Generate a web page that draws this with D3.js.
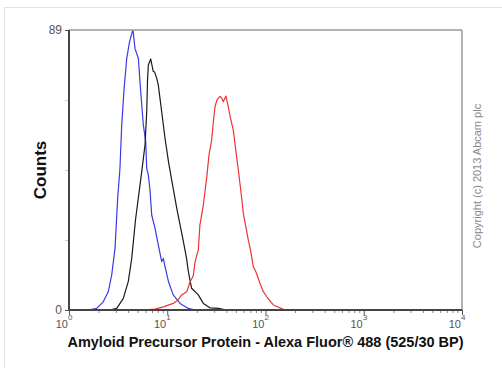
<!DOCTYPE html>
<html>
<head>
<meta charset="utf-8">
<script src="https://cdn.jsdelivr.net/npm/d3@7"></script>
<style>
  body { margin: 0; background: #fff; }
  text { font-family: Arial, "Liberation Sans", sans-serif; }
</style>
</head>
<body>
<div id="chart"></div>
<script>
// histogram traces (intensity, counts)
const blueIntensity = [1.3, 1.57, 1.91, 2.23, 2.51, 2.72, 2.94, 3.13, 3.30, 3.44, 3.63, 3.87, 4.13, 4.41, 4.48, 4.70, 5.08, 5.35, 5.71, 6.04, 6.18, 6.42, 6.67, 6.95, 7.50, 8.11, 8.78, 9.12, 9.49, 10.3, 11.5, 13.5, 16.4, 19.2];
const blueCounts = [0, 0, 0.5, 2.6, 5.8, 11.1, 19.6, 35.5, 45.0, 58.8, 70, 80.0, 85.2, 88.5, 89, 83, 80.0, 70, 58.8, 53.5, 45.0, 42.9, 38.1, 30.2, 26.0, 20.7, 15.4, 16.4, 13.8, 9.0, 4.8, 2.1, 0.5, 0];

const blackIntensity = [2.61, 3.06, 3.57, 4.01, 4.35, 4.75, 5.5, 5.94, 6.18, 6.30, 6.42, 6.79, 6.92, 7.21, 7.42, 7.81, 8.11, 8.78, 9.49, 10.3, 11.1, 12.5, 14.6, 15.7, 16.4, 17.7, 20.7, 23.3, 27.2, 33.1, 40.3];
const blackCounts = [0, 0.5, 3.7, 9.0, 16.4, 28.6, 44, 52.5, 63.0, 73.1, 77.9, 79.8, 78.5, 75.8, 75.7, 73.7, 71.5, 63.0, 54.6, 47.1, 41.3, 32.3, 21.7, 16.5, 12.2, 6.9, 4.8, 2.1, 0.7, 0.5, 0];

const redIntensity = [5.5, 7.5, 9.12, 11.5, 12.9, 14.0, 15.8, 17.1, 18.4, 19.2, 20.7, 21.5, 23.3, 25.2, 26.6, 28.3, 29.6, 30.6, 32.1, 33.1, 34.4, 35.8, 37.2, 38.7, 39.6, 41.8, 44.0, 47.0, 50.1, 52.9, 56.3, 59.5, 63.4, 66.8, 70.3, 75.1, 80.0, 87.9, 94.3, 103, 120, 152, 178];
const redCounts = [0, 0.3, 1.0, 2.1, 3.2, 4.8, 5.8, 9.0, 10.8, 15.4, 19.1, 27.0, 33.4, 42.0, 49.3, 54.0, 60.4, 64.6, 66.8, 67.3, 67.9, 67.4, 66.2, 67.4, 68.0, 64.6, 61.0, 57.2, 50.2, 44.5, 37.5, 30.7, 26.1, 22.3, 19.1, 13.8, 12.1, 8.5, 6.0, 4.2, 1.6, 0.2, 0];

const xMajorTicks = [1, 10, 100, 1000, 10000];
const xMajorExp = ["0", "1", "2", "3", "4"];
const yTicks = [0, 22.25, 44.5, 66.75, 89];
const yTickLabels = ["0", "", "", "", "89"];

const xLabel = "Amyloid Precursor Protein - Alexa Fluor\u00AE 488 (525/30 BP)";
const yLabel = "Counts";
const copyright = "Copyright (c) 2013 Abcam plc";

const W = 502, H = 368;
const margin = { top: 30, right: 40, bottom: 58, left: 69 };
const width = W - margin.left - margin.right;
const height = H - margin.top - margin.bottom;

const svg = d3.select("#chart")
  .append("svg")
  .attr("width", W)
  .attr("height", H);

// light outer frame of the picture
svg.append("rect")
  .attr("x", 4.5).attr("y", 7.5)
  .attr("width", W + 10).attr("height", H + 10)
  .attr("fill", "none")
  .attr("stroke", "#e2e2e2");

const g = svg.append("g")
  .attr("transform", `translate(${margin.left},${margin.top})`);

const x = d3.scaleLog().domain([1, 10000]).range([0, width]);
const y = d3.scaleLinear().domain([0, 89]).range([height, 0]);

// minor log ticks
const minorTicks = [];
for (let d = 1; d < 10000; d *= 10) {
  for (let k = 2; k <= 9; k++) minorTicks.push(d * k);
}

g.append("g")
  .attr("transform", `translate(0,${height})`)
  .call(d3.axisBottom(x).tickValues(minorTicks).tickSize(3).tickFormat(""))
  .call(a => a.select(".domain").remove())
  .call(a => a.selectAll("line").attr("stroke", "#888"));

g.append("g")
  .attr("transform", `translate(0,${height})`)
  .call(d3.axisBottom(x).tickValues(xMajorTicks).tickSize(5).tickFormat(""))
  .call(a => a.select(".domain").remove())
  .call(a => a.selectAll("line").attr("stroke", "#555"));

// x tick labels 10^n
const xl = g.append("g").attr("fill", "#555");
xMajorTicks.forEach((v, i) => {
  xl.append("text")
    .attr("x", x(v) - 1)
    .attr("y", height + 18)
    .attr("text-anchor", "end")
    .attr("font-size", 11)
    .text("10");
  xl.append("text")
    .attr("x", x(v) - 1)
    .attr("y", height + 10)
    .attr("font-size", 8)
    .text(xMajorExp[i]);
});

// y ticks
g.append("g")
  .call(d3.axisLeft(y).tickValues(yTicks).tickSize(4).tickFormat((d, i) => yTickLabels[i]))
  .call(a => a.select(".domain").remove())
  .call(a => a.selectAll("line").attr("stroke", (d) => (d === 0 || d === 89) ? "#555" : "#ccc"))
  .call(a => a.selectAll("text").attr("fill", "#555").attr("font-size", 12)
    .attr("font-family", "Arial, 'Liberation Sans', sans-serif"));

// curves
g.append("clipPath").attr("id", "plotclip")
  .append("rect").attr("width", width).attr("height", height);

const line = d3.line()
  .x((d) => x(d[0]))
  .y((d) => y(d[1]));

const series = [
  { xs: blueIntensity, ys: blueCounts, color: "#3a3ae6" },
  { xs: blackIntensity, ys: blackCounts, color: "#1a1a1a" },
  { xs: redIntensity, ys: redCounts, color: "#ec3434" }
];

g.append("g").attr("clip-path", "url(#plotclip)")
  .selectAll("path")
  .data(series)
  .enter()
  .append("path")
  .attr("d", (s) => line(s.xs.map((v, i) => [v, s.ys[i]])))
  .attr("fill", "none")
  .attr("stroke", (s) => s.color)
  .attr("stroke-width", 1.2)
  .attr("stroke-linejoin", "round");

// plot frame
g.append("line").attr("x1", 0).attr("x2", width).attr("y1", 0).attr("y2", 0)
  .attr("stroke", "#999").attr("stroke-width", 1.5);
g.append("line").attr("x1", width).attr("x2", width).attr("y1", 0).attr("y2", height)
  .attr("stroke", "#999").attr("stroke-width", 1.5);
g.append("line").attr("x1", 0).attr("x2", 0).attr("y1", 0).attr("y2", height)
  .attr("stroke", "#444").attr("stroke-width", 2);
g.append("line").attr("x1", 0).attr("x2", width).attr("y1", height).attr("y2", height)
  .attr("stroke", "#444").attr("stroke-width", 2);

// axis titles
svg.append("text")
  .attr("x", margin.left + width / 2)
  .attr("y", 347)
  .attr("text-anchor", "middle")
  .attr("font-size", 14.5)
  .attr("font-weight", "bold")
  .attr("fill", "#111")
  .text(xLabel);

svg.append("text")
  .attr("transform", "translate(46,170) rotate(-90)")
  .attr("text-anchor", "middle")
  .attr("font-size", 17)
  .attr("font-weight", "bold")
  .attr("fill", "#111")
  .text(yLabel);

svg.append("text")
  .attr("transform", "translate(481,176) rotate(-90)")
  .attr("text-anchor", "middle")
  .attr("font-size", 11)
  .attr("fill", "#888")
  .text(copyright);
</script>
</body>
</html>
